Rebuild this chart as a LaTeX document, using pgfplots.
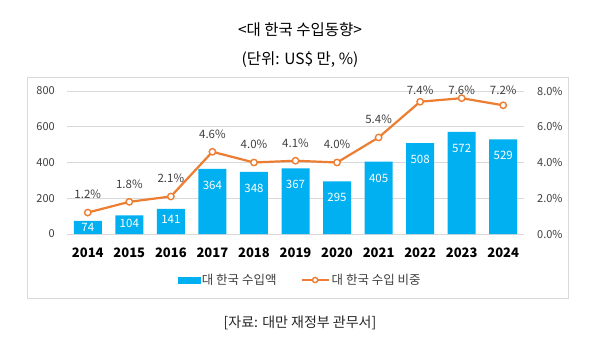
\documentclass[border=0pt]{standalone}
\usepackage{fontspec}
\setmainfont{Noto Sans CJK KR}
\usepackage{pgfplots}
\pgfplotsset{compat=1.18}
\definecolor{barblue}{HTML}{00B0F0}
\definecolor{lineor}{HTML}{ED7D31}
\definecolor{gridc}{HTML}{D9D9D9}
\definecolor{txt}{HTML}{404040}
\pgfplotsset{
  mylegline/.style={legend image code/.code={\draw[mark repeat=2,mark phase=2,mark size=2.6pt,##1] plot coordinates {(0pt,0pt) (13.5pt,0pt) (27pt,0pt)};}},
  mylegbar/.style={legend image code/.code={\fill[barblue] (0pt,-3pt) rectangle (22pt,3pt);}}
}
\begin{document}
\begin{tikzpicture}[x=1pt,y=1pt]
\useasboundingbox[fill=white] (0,0) rectangle (600,354);
\draw[gridc, line width=0.9pt] (27,56) rectangle (568,277);
\node[font=\fontsize{15.5}{18}\selectfont] at (300,324) {<대 한국 수입동향>};
\node[font=\fontsize{15.5}{18}\selectfont] at (300,294) {(단위: US\$ 만, \%)};
\node[font=\fontsize{14}{17}\selectfont, text=black!85] at (300,31) {[자료: 대만 재정부 관무서]};
\begin{axis}[
  at={(67pt,120pt)}, anchor=south west, scale only axis,
  width=457pt, height=143pt,
  xmin=-0.5, xmax=10.5, ymin=0, ymax=800,
  xtick={0,...,10}, xticklabels={2014,2015,2016,2017,2018,2019,2020,2021,2022,2023,2024},
  ytick={0,200,400,600,800},
  axis line style={draw=none}, major tick length=0pt,
  ymajorgrids, grid style={gridc, line width=0.8pt},
  /pgf/number format/assume math mode=true,
  yticklabel style={anchor=east, inner sep=0pt, xshift=-12pt, font=\fontsize{11}{13}\selectfont, text=txt},
  xticklabel style={anchor=center, inner sep=0pt, yshift=-19pt, font=\bfseries\fontsize{13}{15}\selectfont, text=black},
]
\addplot[ybar, bar width=28pt, fill=barblue, draw=none] coordinates {
(0,74) (1,104) (2,141) (3,364) (4,348) (5,367) (6,295) (7,405) (8,508) (9,572) (10,529)};
\addplot[draw=none, mark=none, nodes near coords, point meta=explicit symbolic,
  every node near coord/.append style={anchor=center, text=white, font=\fontsize{11.5}{13}\selectfont, inner sep=0pt}]
coordinates {(0,35)[74] (1,60)[104] (2,80)[141] (3,272)[364] (4,256)[348] (5,275)[367] (6,203)[295] (7,313)[405] (8,416)[508] (9,480)[572] (10,437)[529]};
\end{axis}
\begin{axis}[
  at={(67pt,120pt)}, anchor=south west, scale only axis,
  width=457pt, height=143pt, clip=false,
  xmin=-0.5, xmax=10.5, ymin=0, ymax=8,
  xtick=\empty, ytick={0,2,4,6,8},
  yticklabels={0.0\%,2.0\%,4.0\%,6.0\%,8.0\%},
  yticklabel pos=right,
  axis line style={draw=none}, major tick length=0pt,
  yticklabel style={anchor=west, inner sep=0pt, xshift=13pt, font=\fontsize{11}{13}\selectfont, text=txt},
  legend style={at={(0.51,-0.322)}, anchor=center, draw=none, fill=none,
    font=\fontsize{12.5}{14}\selectfont, text=txt, legend columns=2,
    /tikz/every even column/.append style={column sep=22pt}},
  legend cell align=left,
]
\addlegendimage{mylegbar}
\addlegendentry{대 한국 수입액}
\addplot[lineor, line width=2.2pt, mark=*, mark size=3.2pt,
  mark options={fill=white, draw=lineor, line width=1.4pt}, mylegline]
coordinates {(0,1.2) (1,1.8) (2,2.1) (3,4.6) (4,4.0) (5,4.1) (6,4.0) (7,5.4) (8,7.4) (9,7.6) (10,7.2)};
\addlegendentry{대 한국 수입 비중}
\addplot[draw=none, mark=none, nodes near coords, point meta=explicit symbolic,
  every node near coord/.append style={anchor=center, text=txt, font=\fontsize{11.5}{13}\selectfont, inner sep=0pt}]
coordinates {(0,2.2)[1.2\%] (1,2.8)[1.8\%] (2,3.1)[2.1\%] (3,5.6)[4.6\%] (4,5.0)[4.0\%] (5,5.1)[4.1\%] (6,5.0)[4.0\%] (7,6.4)[5.4\%] (8,8.05)[7.4\%] (9,8.05)[7.6\%] (10,8.05)[7.2\%]};
\end{axis}
\end{tikzpicture}
\end{document}
